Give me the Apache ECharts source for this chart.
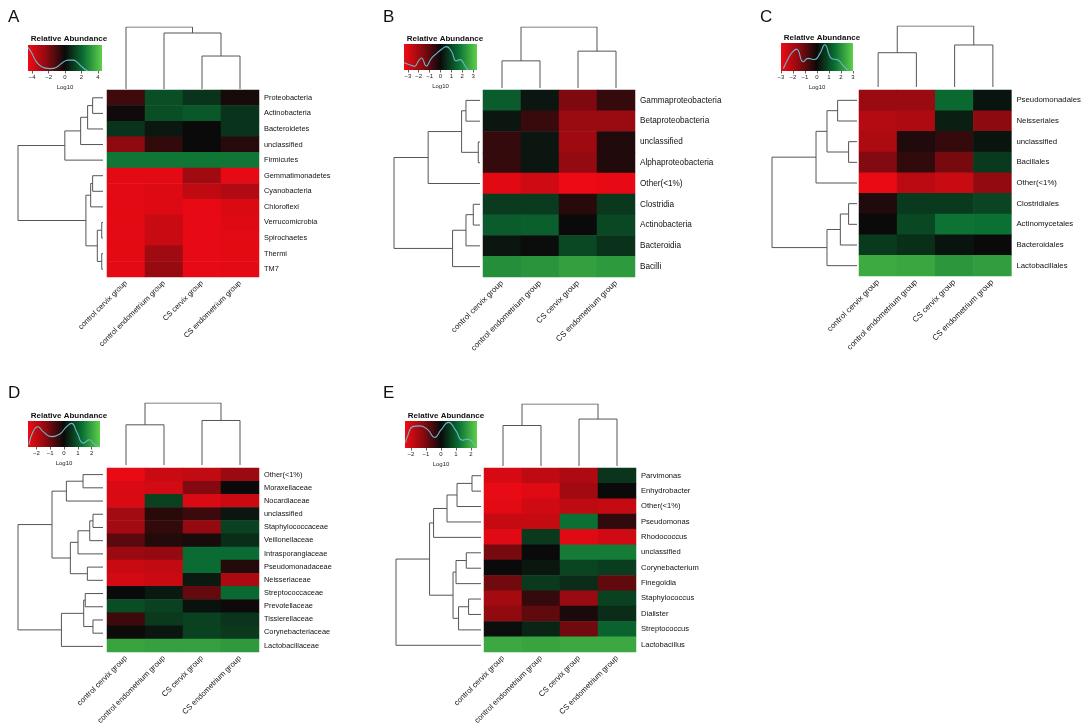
<!DOCTYPE html>
<html><head><meta charset="utf-8">
<script src="https://cdn.jsdelivr.net/npm/echarts@6/dist/echarts.min.js"></script>
<style>html,body{margin:0;padding:0;background:#fff}#c{width:1084px;height:727px}</style>
</head><body><div id="c"></div>
<script>
// ---------- data ----------
const groups = ['control cervix group','control endometrium group','CS cervix group','CS endometrium group'];

const rowsA = ['Proteobacteria','Actinobacteria','Bacteroidetes','unclassified','Firmicutes','Gemmatimonadetes','Cyanobacteria','Chloroflexi','Verrucomicrobia','Spirochaetes','Thermi','TM7'];
const valuesA = [
  [-0.9, 1.5, 0.9, -0.2],
  [-0.1, 1.5, 1.7, 0.9],
  [0.9, 0.3, 0.0, 0.9],
  [-2.3, -0.7, 0.0, -0.5],
  [2.4, 2.4, 2.4, 2.4],
  [-4.2, -4.2, -2.7, -4.3],
  [-4.2, -4.1, -3.4, -3.1],
  [-4.2, -4.1, -4.3, -4.0],
  [-4.2, -3.6, -4.3, -4.1],
  [-4.2, -3.6, -4.3, -4.2],
  [-4.2, -2.7, -4.3, -4.2],
  [-4.2, -2.5, -4.3, -4.2]
];
const rowLinkA = [[0,1,0.122],[12,2,0.181],[13,3,0.263],[14,4,0.449],[5,6,0.122],[16,7,0.145],[8,9,0.015],[10,11,0.015],[18,19,0.067],[17,20,0.201],[15,21,1]];
const colLinkA = [[2,3,0.532],[1,4,0.903],[0,5,1]];
const keyRangeA = 4.5;
const keyTicksA = [-4,-2,0,2,4];
const densXA = [-4.5,-4.1,-3.5,-3.0,-2.5,-1.8,-1.0,-0.4,0.4,1.0,1.5,2.0,2.5,2.8];
const densYA = [0.91,0.72,0.36,0.2,0.12,0.09,0.15,0.3,0.42,0.42,0.33,0.18,0.05,0.0];

const rowsB = ['Gammaproteobacteria','Betaproteobacteria','unclassified','Alphaproteobacteria','Other(<1%)','Clostridia','Actinobacteria','Bacteroidia','Bacilli'];
const valuesB = [
  [1.35, 0.2, -1.5, -0.55],
  [0.2, -0.6, -1.9, -1.9],
  [-0.55, 0.2, -2.0, -0.3],
  [-0.55, 0.2, -1.8, -0.3],
  [-3.1, -2.8, -3.3, -3.2],
  [0.8, 0.8, -0.4, 0.75],
  [1.35, 1.4, 0.0, 1.0],
  [0.2, 0.05, 1.0, 0.65],
  [2.2, 2.3, 2.5, 2.4]
];
const rowLinkB = [[0,1,0.163],[2,3,0.020],[9,10,0.214],[11,4,0.603],[5,6,0.078],[13,7,0.163],[14,8,0.319],[12,15,1]];
const colLinkB = [[0,1,0.445],[2,3,0.604],[4,5,1]];
const keyRangeB = 3.35;
const keyTicksB = [-3,-2,-1,0,1,2,3];
const densXB = [-3.35,-2.85,-2.4,-2.0,-1.75,-1.3,-0.85,-0.4,0.1,0.55,1.0,1.45,1.8,2.1,2.45,2.6];
const densYB = [0.28,0.2,0.14,0.36,0.46,0.15,0.44,0.62,0.8,0.9,0.72,0.35,0.4,0.27,0.04,0.0];

const rowsC = ['Pseudomonadales','Neisseriales','unclassified','Bacillales','Other(<1%)','Clostridiales','Actinomycetales','Bacteroidales','Lactobacillales'];
const valuesC = [
  [-1.7, -1.7, 1.4, 0.15],
  [-2.1, -2.0, 0.3, -1.5],
  [-2.0, -0.25, -0.5, 0.15],
  [-1.4, -0.45, -1.25, 0.7],
  [-2.9, -2.2, -2.4, -1.6],
  [-0.25, 0.7, 0.7, 0.85],
  [0.0, 0.9, 1.55, 1.5],
  [0.7, 0.55, 0.15, 0.0],
  [2.4, 2.35, 2.1, 2.2]
];
const rowLinkC = [[0,1,0.228],[2,3,0.099],[9,10,0.353],[11,4,0.482],[5,6,0.099],[13,7,0.196],[14,8,0.353],[12,15,1]];
const colLinkC = [[0,1,0.562],[2,3,0.689],[4,5,1]];
const keyRangeC = 3;
const keyTicksC = [-3,-2,-1,0,1,2,3];
const densXC = [-2.8,-2.4,-2.1,-1.7,-1.15,-0.75,-0.2,0.25,0.65,1.2,1.75,2.15,2.6];
const densYC = [0.09,0.45,0.65,0.78,0.33,0.45,0.41,0.63,0.94,0.45,0.39,0.21,0.02];

const rowsD = ['Other(<1%)','Moraxellaceae','Nocardiaceae','unclassified','Staphylococcaceae','Veillonellaceae','Intrasporangiaceae','Pseudomonadaceae','Neisseriaceae','Streptococcaceae','Prevotellaceae','Tissierellaceae','Corynebacteriaceae','Lactobacillaceae'];
const valuesD = [
  [-2.5, -2.1, -2.0, -1.5],
  [-2.3, -2.2, -1.2, 0.0],
  [-2.3, 0.7, -2.3, -2.1],
  [-1.6, -0.3, -0.5, 0.15],
  [-1.6, -0.4, -1.4, 0.7],
  [-0.8, -0.25, -0.15, 0.45],
  [-1.5, -1.4, 1.25, 1.25],
  [-2.1, -2.0, 1.25, -0.25],
  [-2.2, -2.1, 0.2, -1.7],
  [0.0, 0.2, -0.9, 1.2],
  [0.85, 0.7, 0.1, -0.05],
  [-0.5, 0.6, 0.7, 0.55],
  [-0.05, 0.15, 0.7, 0.6],
  [2.0, 1.95, 1.95, 1.85]
];
const rowLinkD = [[0,1,0.235],[14,2,0.431],[3,4,0.118],[16,5,0.156],[17,6,0.294],[7,8,0.184],[18,19,0.384],[15,20,0.6],[9,10,0.209],[11,12,0.118],[22,23,0.227],[24,13,0.489],[21,25,1]];
const colLinkD = [[0,1,0.648],[2,3,0.718],[4,5,1]];
const keyRangeD = 2.6;
const keyTicksD = [-2,-1,0,1,2];
const densXD = [-2.53,-2.24,-1.88,-1.51,-0.9,-0.3,0.18,0.55,0.91,1.4,1.83,2.12,2.5];
const densYD = [0.09,0.59,0.78,0.59,0.4,0.5,0.78,0.91,0.59,0.15,0.28,0.15,0.0];

const rowsE = ['Parvimonas','Enhydrobacter','Other(<1%)','Pseudomonas','Rhodococcus','unclassified','Corynebacterium','Finegoldia','Staphylococcus','Dialister','Streptococcus','Lactobacillus'];
const valuesE = [
  [-2.1, -1.8, -1.6, 0.5],
  [-2.3, -2.2, -1.45, 0.0],
  [-2.25, -2.0, -1.8, -1.9],
  [-1.9, -1.9, 1.2, -0.35],
  [-2.2, 0.55, -2.2, -2.0],
  [-1.0, 0.0, 1.35, 1.35],
  [0.0, 0.15, 0.7, 0.6],
  [-0.95, 0.55, 0.4, -0.8],
  [-1.5, -0.4, -1.35, 0.65],
  [-1.25, -0.8, -0.15, 0.4],
  [0.05, 0.3, -0.95, 1.05],
  [1.9, 1.85, 1.9, 1.9]
];
const rowLinkE = [[0,1,0.106],[12,2,0.282],[13,3,0.4],[14,4,0.558],[5,6,0.173],[16,7,0.294],[8,9,0.146],[18,10,0.264],[17,19,0.329],[15,20,0.605],[21,11,1]];
const colLinkE = [[0,1,0.653],[2,3,0.757],[4,5,1]];
const keyRangeE = 2.4;
const keyTicksE = [-2,-1,0,1,2];
const densXE = [-2.35,-2.29,-1.85,-1.42,-0.87,-0.43,0.0,0.5,0.98,1.43,1.76,2.09,2.3];
const densYE = [0.2,0.35,0.8,0.82,0.67,0.39,0.67,0.95,0.65,0.29,0.33,0.23,0.06];

// ---------- layout / style ----------
const palette = ['#f00a14','#8c0a10','#0a0a0a','#0a7034','#5ed04a'];
const FONT = '"Liberation Sans", Arial, sans-serif';

const panels = [
  {letter:'A', rows:rowsA, values:valuesA, rowLink:rowLinkA, colLink:colLinkA, range:keyRangeA, ticks:keyTicksA, dx:densXA, dy:densYA,
   heat:{left:107, top:90, width:152, height:187}, rowD:{left:18, width:85}, colD:{top:27, height:62},
   key:{left:28, top:45, width:74, height:26}, letterPos:[3,4], keyTitle:[64,30], rowFont:7.4, colFont:7.5},
  {letter:'B', rows:rowsB, values:valuesB, rowLink:rowLinkB, colLink:colLinkB, range:keyRangeB, ticks:keyTicksB, dx:densXB, dy:densYB,
   heat:{left:483, top:90, width:152, height:187}, rowD:{left:394, width:86}, colD:{top:27, height:61},
   key:{left:404, top:44, width:73, height:26}, letterPos:[378,4], keyTitle:[440,30], rowFont:8.2, colFont:8},
  {letter:'C', rows:rowsC, values:valuesC, rowLink:rowLinkC, colLink:colLinkC, range:keyRangeC, ticks:keyTicksC, dx:densXC, dy:densYC,
   heat:{left:859, top:90, width:153, height:186}, rowD:{left:772, width:85}, colD:{top:26, height:61},
   key:{left:781, top:43, width:72, height:28}, letterPos:[755,4], keyTitle:[817,29], rowFont:7.8, colFont:8},
  {letter:'D', rows:rowsD, values:valuesD, rowLink:rowLinkD, colLink:colLinkD, range:keyRangeD, ticks:keyTicksD, dx:densXD, dy:densYD,
   heat:{left:107, top:468, width:152, height:185}, rowD:{left:18, width:85}, colD:{top:403, height:62},
   key:{left:28, top:421, width:72, height:26}, letterPos:[3,380], keyTitle:[64,407], rowFont:7.4, colFont:7.7},
  {letter:'E', rows:rowsE, values:valuesE, rowLink:rowLinkE, colLink:colLinkE, range:keyRangeE, ticks:keyTicksE, dx:densXE, dy:densYE,
   heat:{left:484, top:468, width:152, height:185}, rowD:{left:396, width:85}, colD:{top:404, height:62},
   key:{left:405, top:421, width:72, height:27}, letterPos:[378,380], keyTitle:[441,407], rowFont:7.6, colFont:7.7}
];

function dendro(link, n, rowsMode) {
  const pos = [], hgt = [];
  for (let i = 0; i < n; i++) { pos[i] = i; hgt[i] = 0; }
  return link.map((m, k) => {
    const [a, b, h] = m;
    const id = n + k;
    pos[id] = (pos[a] + pos[b]) / 2; hgt[id] = h;
    const pts = [[pos[a], hgt[a]], [pos[a], h], [pos[b], h], [pos[b], hgt[b]]];
    return { coords: rowsMode ? pts.map(p => [p[1], p[0]]) : pts };
  });
}

const grid = [], xAxis = [], yAxis = [], series = [], visualMap = [], title = [];
const hidden = {show:false};

panels.forEach((p, pi) => {
  const g0 = grid.length;
  const nR = p.rows.length, nC = groups.length;
  grid.push({left:p.heat.left, top:p.heat.top, width:p.heat.width, height:p.heat.height});
  xAxis.push({type:'category', gridIndex:g0, data:groups, position:'bottom',
    axisLine:hidden, axisTick:hidden, splitLine:hidden,
    axisLabel:{rotate:45, interval:0, fontSize:p.colFont, margin:5, color:'#111', fontFamily:FONT}});
  yAxis.push({type:'category', gridIndex:g0, data:p.rows, inverse:true, position:'right',
    axisLine:hidden, axisTick:hidden, splitLine:hidden,
    axisLabel:{fontSize:p.rowFont, margin:5, color:'#111', fontFamily:FONT}});
  grid.push({left:p.rowD.left, top:p.heat.top, width:p.rowD.width, height:p.heat.height});
  xAxis.push({type:'value', gridIndex:g0+1, min:0, max:1, inverse:true, show:false});
  yAxis.push({type:'value', gridIndex:g0+1, min:-0.5, max:nR-0.5, inverse:true, show:false});
  grid.push({left:p.heat.left, top:p.colD.top, width:p.heat.width, height:p.colD.height});
  xAxis.push({type:'value', gridIndex:g0+2, min:-0.5, max:nC-0.5, show:false});
  yAxis.push({type:'value', gridIndex:g0+2, min:0, max:1, show:false});
  grid.push({left:p.key.left, top:p.key.top, width:p.key.width, height:p.key.height});
  xAxis.push({type:'value', gridIndex:g0+3, min:-p.range, max:p.range, position:'bottom',
    splitLine:hidden, axisLine:hidden,
    axisTick:{show:true, length:2.5, lineStyle:{color:'#333', width:0.8}, customValues:p.ticks},
    axisLabel:{fontSize:6, margin:3, color:'#222', fontFamily:FONT, customValues:p.ticks,
      formatter:v => String(v).replace('-', '\u2212')},
    name:'Log10', nameLocation:'middle', nameGap:13,
    nameTextStyle:{fontSize:6, color:'#222', fontFamily:FONT}});
  yAxis.push({type:'value', gridIndex:g0+3, min:0, max:1, show:false});

  const heatData = [];
  p.values.forEach((row, r) => row.forEach((v, c) => heatData.push([c, r, v])));
  const hs = series.length;
  series.push({type:'heatmap', xAxisIndex:g0, yAxisIndex:g0, data:heatData,
    itemStyle:{borderWidth:0}, emphasis:{disabled:true}, silent:true, animation:false});
  visualMap.push({type:'continuous', show:false, seriesIndex:hs, min:-p.range, max:p.range,
    inRange:{color:palette}});
  series.push({type:'lines', coordinateSystem:'cartesian2d', xAxisIndex:g0+1, yAxisIndex:g0+1,
    polyline:true, data:dendro(p.rowLink, nR, true),
    lineStyle:{color:'#555', width:1, opacity:1}, silent:true, animation:false});
  series.push({type:'lines', coordinateSystem:'cartesian2d', xAxisIndex:g0+2, yAxisIndex:g0+2,
    polyline:true, data:dendro(p.colLink, nC, false),
    lineStyle:{color:'#555', width:1, opacity:1}, silent:true, animation:false});
  const rng = p.range;
  series.push({type:'custom', xAxisIndex:g0+3, yAxisIndex:g0+3, data:[[0,0]], silent:true, animation:false,
    renderItem:(params, api) => {
      const a = api.coord([-rng, 1]), b = api.coord([rng, 0]);
      return {type:'rect', shape:{x:a[0], y:a[1], width:b[0]-a[0], height:b[1]-a[1]},
        style:{fill:new echarts.graphic.LinearGradient(0,0,1,0,
          palette.map((c, i) => ({offset:i/(palette.length-1), color:c})))}};
    }});
  series.push({type:'line', xAxisIndex:g0+3, yAxisIndex:g0+3, smooth:0.5, showSymbol:false,
    data:p.dx.map((x, i) => [x, p.dy[i]]), lineStyle:{color:'#6ab8cc', width:1.1},
    silent:true, animation:false, z:5});

  title.push({text:p.letter, left:p.letterPos[0], top:p.letterPos[1],
    textStyle:{fontSize:17, fontWeight:'normal', color:'#111', fontFamily:FONT}});
  title.push({text:'Relative Abundance', left:p.keyTitle[0], top:p.keyTitle[1], textAlign:'center',
    textStyle:{fontSize:8, fontWeight:'bold', color:'#111', fontFamily:FONT}});
});

const chart = echarts.init(document.getElementById('c'), null, {renderer:'canvas'});
chart.setOption({backgroundColor:'#fff', animation:false, title, grid, xAxis, yAxis, visualMap, series});
</script></body></html>
